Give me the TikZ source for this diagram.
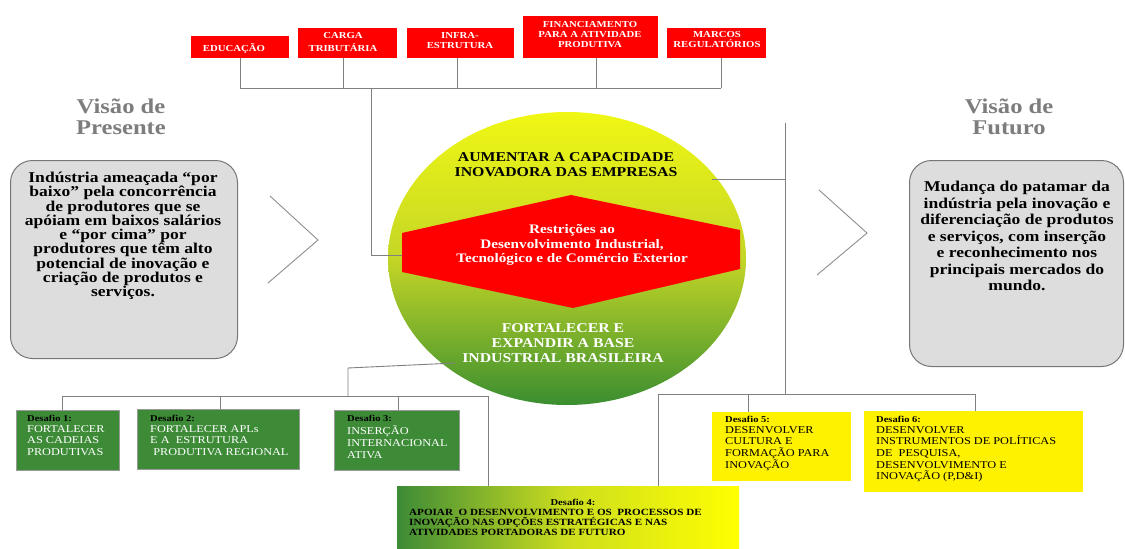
\documentclass[tikz,border=0pt]{standalone}
\usepackage{fontspec}
\setmainfont{Liberation Serif}[FakeStretch=1.17]
\usetikzlibrary{shapes.geometric,calc}
\definecolor{conngray}{RGB}{128,128,128}
\definecolor{boxgray}{RGB}{221,221,221}
\definecolor{boxedge}{RGB}{118,118,118}
\definecolor{titlegray}{RGB}{125,125,125}
\definecolor{dgreen}{RGB}{61,139,55}
\definecolor{ytop}{RGB}{240,247,20}
\definecolor{ymid}{RGB}{196,214,38}
\definecolor{gbot}{RGB}{58,142,48}
\definecolor{d4mid}{RGB}{205,222,30}
\definecolor{hexred}{RGB}{255,0,0}
\tikzset{
  conn/.style={draw=conngray, line width=0.9pt},
  chev/.style={draw=conngray!90, line width=0.9pt},
  redbox/.style={fill=hexred, draw=none, inner sep=0pt, anchor=north west},
  redtxt/.style={text=white, align=center, inner sep=0pt,
    font={\fontsize{9.2pt}{#1}\selectfont\bfseries}},
  redtxt/.default={10pt},
  titletxt/.style={text=titlegray, align=center, inner sep=0pt,
    font={\fontsize{21pt}{21pt}\selectfont\bfseries}},
  graybox/.style={fill=boxgray, draw=boxedge, line width=1pt, rounded corners=22pt, anchor=north west, inner sep=0pt},
  bigtxt/.style={text=black, align=center, inner sep=0pt,
    font={\fontsize{15pt}{#1}\selectfont\bfseries}},
  elltxt/.style={align=center, inner sep=0pt,
    font={\fontsize{13.5pt}{15pt}\selectfont\bfseries}},
  hextxt/.style={text=white, align=center, inner sep=0pt,
    font={\fontsize{13pt}{14.5pt}\selectfont\bfseries}},
  gbox/.style={fill=dgreen, draw=gray!80, line width=0.8pt, anchor=north west, inner sep=0pt},
  ybox/.style={fill=yellow, draw=none, anchor=north west, inner sep=0pt},
  dlab/.style={anchor=west, inner sep=0pt, text=black, font={\fontsize{9pt}{10pt}\selectfont\bfseries}},
  dbody/.style={anchor=north west, align=left, inner sep=0pt,
    font={\fontsize{10.5pt}{11.7pt}\selectfont}},
  d4body/.style={anchor=north west, align=left, inner sep=0pt, text=black,
    font={\fontsize{9.5pt}{9.7pt}\selectfont\bfseries}},
}
\begin{document}
\begin{tikzpicture}[x=1pt,y=-1pt]
\useasboundingbox (0,0) rectangle (1125,549);

% ---------- top red boxes ----------
\node[redbox, minimum width=98pt, minimum height=22pt] (edu) at (191,36) {};
\node[redbox, minimum width=99pt, minimum height=30pt] (carga) at (298,28) {};
\node[redbox, minimum width=107pt, minimum height=30pt] (infra) at (407,28) {};
\node[redbox, minimum width=135pt, minimum height=42pt] (fin) at (523,16) {};
\node[redbox, minimum width=99pt, minimum height=30pt] (marcos) at (667,28) {};

\node[redtxt] (edut) at (234,48) {EDUCAÇÃO};
\node[redtxt=12.3pt] (cargat) at (343,42) {CARGA\\TRIBUTÁRIA};
\node[redtxt=9.5pt] (infrat) at (460,40.5) {INFRA-\\ESTRUTURA};
\node[redtxt=9.7pt] (fint) at (590,34.5) {FINANCIAMENTO\\PARA A ATIVIDADE\\PRODUTIVA};
\node[redtxt=10pt] (marcost) at (717,39) {MARCOS\\REGULATÓRIOS};

% ---------- titles ----------
\node[titletxt] (vp) at (121,117) {Visão de\\Presente};
\node[titletxt] (vf) at (1009,117) {Visão de\\Futuro};

% ---------- side boxes ----------
\node[graybox, minimum width=227pt, minimum height=198pt] (present) at (10,160) {};
\node[graybox, minimum width=214pt, minimum height=206pt] (future) at (909,160) {};
\node[bigtxt=14.3pt] (presentt) at (123,236) {Indústria ameaçada “por\\baixo” pela concorrência\\de produtores que se\\apóiam em baixos salários\\e “por cima” por\\produtores que têm alto\\potencial de inovação e\\criação de produtos e\\serviços.};
\node[bigtxt=16.5pt] (futuret) at (1017,236) {Mudança do patamar da\\indústria pela inovação e\\diferenciação de produtos\\e serviços, com inserção\\e reconhecimento nos\\principais mercados do\\mundo.};

% chevrons
\draw[chev] (270,196) -- (318,240) -- (268,283);
\draw[chev] (819,190) -- (867,233) -- (817,275);

% ---------- central ellipse ----------
\node[ellipse, minimum width=358pt, minimum height=293pt, inner sep=0pt,
      top color=ytop, bottom color=gbot, middle color=ymid] (ell) at (567,258.5) {};

% ---------- connectors (top) ----------
\coordinate (bus1) at (240,88);
\coordinate (bus2) at (343,88);
\coordinate (bus3) at (371,88);
\coordinate (bus4) at (457,88);
\coordinate (bus5) at (596,88);
\coordinate (bus6) at (721,88);
\coordinate (hexL) at (404,255);
\draw[conn] (bus1) -- (bus6);
\draw[conn] (edu.south -| bus1) -- (bus1);
\draw[conn] (carga.south -| bus2) -- (bus2);
\draw[conn] (infra.south -| bus4) -- (bus4);
\draw[conn] (fin.south -| bus5) -- (bus5);
\draw[conn] (marcos.south -| bus6) -- (bus6);
\draw[conn] (bus3) |- (hexL);

% ---------- connectors (right) ----------
\coordinate (ellR) at (712,179);
\coordinate (rv1) at (785,123);
\coordinate (rv2) at (785,179);
\coordinate (rv3) at (785,394);
\coordinate (rb1) at (658,394);
\coordinate (rb2) at (748,394);
\coordinate (rb3) at (975,394);
\draw[conn] (ellR) -- (rv2);
\draw[conn] (rv1) -- (rv3);

% ---------- connectors (left) ----------
\coordinate (ellB) at (455,363);
\coordinate (lb0) at (348,368);
\coordinate (lbus) at (348,396);
\coordinate (lb1) at (62,396);
\coordinate (lb2) at (220,396);
\coordinate (lb3) at (398,396);
\coordinate (lb4) at (488,396);
\draw[conn] (ellB) -- (lb0) -- (lbus);

% ---------- hexagon ----------
\fill[hexred] (402,233) -- (571,195) -- (740,230) -- (740,269) -- (573,308) -- (402,272) -- cycle;

% ---------- ellipse texts ----------
\node[elltxt, text=black] (aum) at (566,165) {AUMENTAR A CAPACIDADE\\INOVADORA DAS EMPRESAS};
\node[elltxt, text=white] (fort) at (563,343) {FORTALECER E\\EXPANDIR A BASE\\INDUSTRIAL BRASILEIRA};
\node[hextxt] (restr) at (572,245) {Restrições ao\\Desenvolvimento Industrial,\\Tecnológico e de Comércio Exterior};

% ---------- challenge boxes ----------
\node[gbox, minimum width=103pt, minimum height=60pt] (d1) at (16,410) {};
\node[gbox, minimum width=162pt, minimum height=60pt] (d2) at (137,409) {};
\node[gbox, minimum width=125pt, minimum height=60pt] (d3) at (334,410) {};
\node[draw=none, anchor=north west, inner sep=0pt, minimum width=342pt, minimum height=64pt,
      left color=dgreen, right color=yellow, middle color=d4mid] (d4) at (397,486) {};
\node[ybox, minimum width=139pt, minimum height=69pt] (d5) at (712,412) {};
\node[ybox, minimum width=219pt, minimum height=81pt] (d6) at (864,411) {};

\draw[conn] (lb1) -- (lb4);
\draw[conn] (lb1) -- (d1.north -| lb1);
\draw[conn] (lb2) -- (d2.north -| lb2);
\draw[conn] (lb3) -- (d3.north -| lb3);
\draw[conn] (lb4) -- (d4.north -| lb4);
\draw[conn] (rb1) -- (rb3);
\draw[conn] (rb1) -- (d4.north -| rb1);
\draw[conn] (rb2) -- (d5.north -| rb2);
\draw[conn] (rb3) -- (d6.north -| rb3);

\node[dlab] (d1l) at (27,418) {Desafio 1:};
\node[dbody, text=white] (d1b) at (27,425) {FORTALECER\\AS CADEIAS\\PRODUTIVAS};
\node[dlab] (d2l) at (150,418) {Desafio 2:};
\node[dbody, text=white] (d2b) at (150,425) {FORTALECER APLs\\E A\ \ ESTRUTURA\\\ PRODUTIVA REGIONAL};
\node[dlab] (d3l) at (347,418) {Desafio 3:};
\node[dbody, text=white] (d3b) at (347,426) {INSERÇÃO\\INTERNACIONAL\\ATIVA};

\node[dlab, anchor=center] (d4l) at (573,502) {Desafio 4:};
\node[d4body] (d4b) at (409,509.5) {APOIAR\ \ O DESENVOLVIMENTO E OS\ \ PROCESSOS DE\\INOVAÇÃO NAS OPÇÕES ESTRATÉGICAS E NAS\\ATIVIDADES PORTADORAS DE FUTURO};

\node[dlab] (d5l) at (725,419) {Desafio 5:};
\node[dbody, text=black] (d5b) at (725,426) {DESENVOLVER\\CULTURA E\\FORMAÇÃO PARA\\INOVAÇÃO};
\node[dlab] (d6l) at (876,419) {Desafio 6:};
\node[dbody, text=black] (d6b) at (876,426) {DESENVOLVER\\INSTRUMENTOS DE POLÍTICAS\\DE\ \ PESQUISA,\\DESENVOLVIMENTO E\\INOVAÇÃO (P,D\&I)};
\end{tikzpicture}
\end{document}
